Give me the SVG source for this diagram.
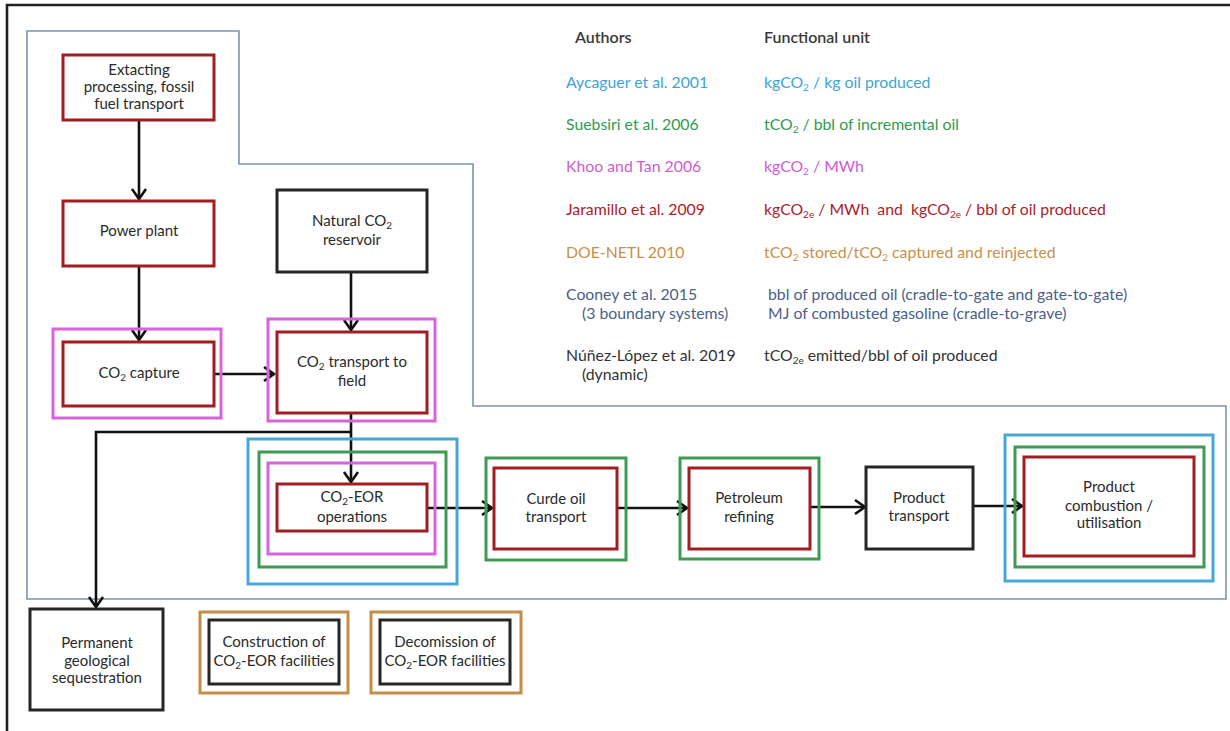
<svg xmlns="http://www.w3.org/2000/svg" width="1230" height="731" viewBox="0 0 1230 731">
<defs>
<marker id="arr" markerUnits="userSpaceOnUse" markerWidth="16" markerHeight="18" viewBox="-12 -9 14 18" refX="0" refY="0" orient="auto">
<path d="M-10,-7 L0,0 L-10,7" fill="none" stroke="#111" stroke-width="2.6"/>
</marker>
<style>
.red{fill:none;stroke:#a11d22;stroke-width:3}
.blk{fill:none;stroke:#262626;stroke-width:3}
.pink{fill:none;stroke:#d764dd;stroke-width:3}
.grn{fill:none;stroke:#3e9a55;stroke-width:3}
.cyan{fill:none;stroke:#45a8d8;stroke-width:3}
.org{fill:none;stroke:#c48d4a;stroke-width:3}
.bnd{fill:none;stroke:#7c95ae;stroke-width:1.6}
.con{fill:none;stroke:#111;stroke-width:2.6;marker-end:url(#arr)}
.nt{font-family:Lato,"Open Sans",sans-serif;font-size:15px;fill:#2a2a2a;text-anchor:middle}
.lt{font-family:Lato,"Open Sans",sans-serif;font-size:15.8px}
.hd{font-family:Lato,"Open Sans",sans-serif;font-size:16px;fill:#3a3a3a;font-weight:600}
.sub{font-size:10px}
</style>
</defs>
<rect width="1230" height="731" fill="#fff"/>
<path d="M7,731 V5 H1230" fill="none" stroke="#222" stroke-width="2.6"/>

<g id="boundary">
<path class="bnd" d="M27,31 H239 V164 H473 V406 H1226 V599 H27 Z"/>
</g>

<g id="legend">
<text class="hd" x="575" y="43">Authors</text>
<text class="hd" x="764" y="43">Functional unit</text>
<text class="lt" x="566" y="88" fill="#3ba6d6">Aycaguer et al. 2001</text>
<text class="lt" x="764" y="88" fill="#3ba6d6">kgCO<tspan class="sub" dy="3">2</tspan><tspan dy="-3"> / kg oil produced</tspan></text>
<text class="lt" x="566" y="130" fill="#2f9a52">Suebsiri et al. 2006</text>
<text class="lt" x="764" y="130" fill="#2f9a52">tCO<tspan class="sub" dy="3">2</tspan><tspan dy="-3"> / bbl of incremental oil</tspan></text>
<text class="lt" x="566" y="172" fill="#d35ad8">Khoo and Tan 2006</text>
<text class="lt" x="764" y="172" fill="#d35ad8">kgCO<tspan class="sub" dy="3">2</tspan><tspan dy="-3"> / MWh</tspan></text>
<text class="lt" x="566" y="215" fill="#a8232b">Jaramillo et al. 2009</text>
<text class="lt" x="764" y="215" fill="#a8232b" xml:space="preserve">kgCO<tspan class="sub" dy="3">2e</tspan><tspan dy="-3"> / MWh  and  kgCO</tspan><tspan class="sub" dy="3">2e</tspan><tspan dy="-3"> / bbl of oil produced</tspan></text>
<text class="lt" x="566" y="258" fill="#c8904a">DOE-NETL 2010</text>
<text class="lt" x="764" y="258" fill="#c8904a">tCO<tspan class="sub" dy="3">2</tspan><tspan dy="-3"> stored/tCO</tspan><tspan class="sub" dy="3">2</tspan><tspan dy="-3"> captured and reinjected</tspan></text>
<text class="lt" x="566" y="300" fill="#4b5f88">Cooney et al. 2015</text>
<text class="lt" x="582" y="319" fill="#4b5f88">(3 boundary systems)</text>
<text class="lt" x="768" y="300" fill="#4b5f88">bbl of produced oil (cradle-to-gate and gate-to-gate)</text>
<text class="lt" x="768" y="319" fill="#4b5f88">MJ of combusted gasoline (cradle-to-grave)</text>
<text class="lt" x="566" y="361" fill="#333">Núñez-López et al. 2019</text>
<text class="lt" x="582" y="380" fill="#333">(dynamic)</text>
<text class="lt" x="764" y="361" fill="#333">tCO<tspan class="sub" dy="3">2e</tspan><tspan dy="-3"> emitted/bbl of oil produced</tspan></text>
</g>

<g id="connectors">
<path class="con" d="M139,120 V199"/>
<path class="con" d="M139,266 V340"/>
<path class="con" d="M214,374 H274"/>
<path class="con" d="M351,272 V330"/>
<path class="con" d="M351,412 V482"/>
<path class="con" d="M351,432 H96 V607"/>
<path class="con" d="M427,508 H492"/>
<path class="con" d="M617,508 H687"/>
<path class="con" d="M810,507 H865"/>
<path class="con" d="M973,506 H1022"/>
</g>

<g id="extracting">
<rect class="red" x="63" y="55" width="151" height="65"/>
<text class="nt" x="139" y="75">Extacting</text>
<text class="nt" x="139" y="92">processing, fossil</text>
<text class="nt" x="139" y="109">fuel transport</text>
</g>
<g id="power-plant">
<rect class="red" x="63" y="201" width="151" height="65"/>
<text class="nt" x="139" y="236">Power plant</text>
</g>
<g id="natural-co2">
<rect class="blk" x="277" y="190" width="150" height="82"/>
<text class="nt" x="352" y="226">Natural CO<tspan class="sub" dy="3">2</tspan></text>
<text class="nt" x="352" y="245">reservoir</text>
</g>
<g id="co2-capture">
<rect class="pink" x="53" y="329" width="168" height="89"/>
<rect class="red" x="63" y="342" width="151" height="64"/>
<text class="nt" x="139" y="378">CO<tspan class="sub" dy="3">2</tspan><tspan dy="-3"> capture</tspan></text>
</g>
<g id="co2-transport">
<rect class="pink" x="268" y="319" width="167" height="102"/>
<rect class="red" x="277" y="332" width="150" height="81"/>
<text class="nt" x="352" y="367">CO<tspan class="sub" dy="3">2</tspan><tspan dy="-3"> transport to</tspan></text>
<text class="nt" x="352" y="386">field</text>
</g>
<g id="co2-eor">
<rect class="cyan" x="248" y="439" width="209" height="145"/>
<rect class="grn" x="259" y="452" width="187" height="115"/>
<rect class="pink" x="268" y="463" width="167" height="91"/>
<rect class="red" x="277" y="484" width="150" height="47"/>
<text class="nt" x="352" y="502">CO<tspan class="sub" dy="3">2</tspan><tspan dy="-3">-EOR</tspan></text>
<text class="nt" x="352" y="522">operations</text>
</g>
<g id="crude-oil">
<rect class="grn" x="486" y="458" width="140" height="102"/>
<rect class="red" x="494" y="468" width="123" height="81"/>
<text class="nt" x="556" y="504">Curde oil</text>
<text class="nt" x="556" y="522">transport</text>
</g>
<g id="refining">
<rect class="grn" x="680" y="458" width="139" height="101"/>
<rect class="red" x="689" y="468" width="121" height="81"/>
<text class="nt" x="749" y="503">Petroleum</text>
<text class="nt" x="749" y="522">refining</text>
</g>
<g id="product-transport">
<rect class="blk" x="866" y="467" width="107" height="82"/>
<text class="nt" x="919" y="503">Product</text>
<text class="nt" x="919" y="521">transport</text>
</g>
<g id="combustion">
<rect class="cyan" x="1005" y="435" width="208" height="146"/>
<rect class="grn" x="1015" y="447" width="189" height="120"/>
<rect class="red" x="1024" y="457" width="170" height="99"/>
<text class="nt" x="1109" y="492">Product</text>
<text class="nt" x="1109" y="511">combustion /</text>
<text class="nt" x="1109" y="528">utilisation</text>
</g>
<g id="sequestration">
<rect class="blk" x="30" y="609" width="133" height="101"/>
<text class="nt" x="97" y="648">Permanent</text>
<text class="nt" x="97" y="666">geological</text>
<text class="nt" x="97" y="683">sequestration</text>
</g>
<g id="construction">
<rect class="org" x="200" y="612" width="148" height="81"/>
<rect class="blk" x="209" y="620" width="130" height="64"/>
<text class="nt" x="274" y="647">Construction of</text>
<text class="nt" x="274" y="666">CO<tspan class="sub" dy="3">2</tspan><tspan dy="-3">-EOR facilities</tspan></text>
</g>
<g id="decommission">
<rect class="org" x="371" y="612" width="150" height="81"/>
<rect class="blk" x="380" y="620" width="130" height="64"/>
<text class="nt" x="445" y="647">Decomission of</text>
<text class="nt" x="445" y="666">CO<tspan class="sub" dy="3">2</tspan><tspan dy="-3">-EOR facilities</tspan></text>
</g>
</svg>
